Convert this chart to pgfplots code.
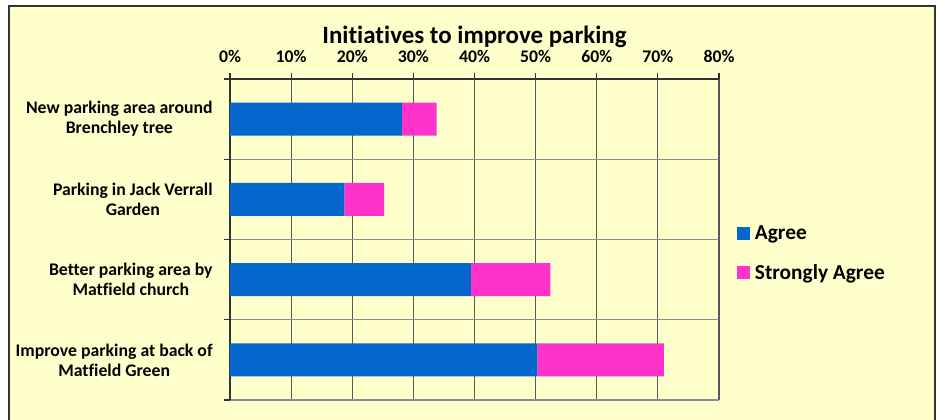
\documentclass[border=0pt]{standalone}
\usepackage{fontspec}
\setmainfont{Carlito}[Ligatures=CommonOff]
\usepackage{pgfplots}
\pgfplotsset{compat=1.18}
\definecolor{bgyellow}{HTML}{FFFFCC}
\definecolor{agreeblue}{HTML}{0567CC}
\definecolor{strongpink}{HTML}{FF33CC}
\definecolor{framegray}{HTML}{333333}

\begin{document}
\begin{tikzpicture}
% background in pixel units (1px = 0.75pt, y downwards)
\begin{scope}[x=0.75pt, y=-0.75pt]
  \useasboundingbox (0,0) rectangle (940,420);
  \fill[white] (0,0) rectangle (940,420);
  \fill[bgyellow] (9,6) rectangle (935,420);
  \draw[framegray, line width=0.9pt] (9,420) -- (9,6) -- (935,6) -- (935,420);
\end{scope}
\begin{axis}[
  at={(172.5pt,-300pt)}, anchor=south west,
  scale only axis, width=366.75pt, height=240.75pt,
  xbar stacked, bar width=24.75pt,
  xmin=0, xmax=80, ymin=-0.5, ymax=3.5, y dir=reverse,
  axis x line*=top, axis y line*=left,
  axis line style={framegray, line width=0.8pt, -},
  xtick={0,10,...,80},
  xticklabel={\pgfmathprintnumber[assume math mode=true]{\tick}\%},
  xticklabel style={font=\fontsize{13.3}{15}\selectfont\bfseries, yshift=4.5pt},
  xmajorgrids, major grid style={black!65, line width=0.8pt},
  ytick={0,1,2,3},
  yticklabels={{New parking area around\\Brenchley tree},
               {Parking in Jack Verrall\\Garden},
               {Better parking area by\\Matfield church},
               {Improve parking at back of\\Matfield Green}},
  yticklabel style={font=\fontsize{13.3}{15}\selectfont\bfseries, align=center, xshift=-5pt},
  minor ytick={-0.5,0.5,1.5,2.5,3.5},
  yminorgrids, minor grid style={black!45, line width=0.8pt},
  tick align=outside, major tick length=4.5pt, minor tick length=4.5pt,
  major y tick style={draw=none},
  minor y tick style={framegray, line width=0.8pt},
  major x tick style={framegray, line width=0.8pt},
  title={Initiatives to improve parking},
  title style={font=\fontsize{18.7}{21}\selectfont\bfseries, at={(0.5,1)}, anchor=center, yshift=25.5pt},
  legend style={at={(1.0368,0.552)}, anchor=north west, draw=none, fill=none,
    font=\fontsize{16}{18}\selectfont\bfseries, inner sep=0pt, row sep=13pt,
    cells={anchor=west}},
  legend image code/.code={\fill[#1, draw=none] (0pt,-4.875pt) rectangle (9.75pt,4.875pt); \path (11.25pt,0pt);},
]
\addplot[fill=agreeblue, draw=none] coordinates {(28.1,0) (18.7,1) (39.4,2) (50.3,3)};
\addplot[fill=strongpink, draw=none] coordinates {(5.7,0) (6.5,1) (13.0,2) (20.7,3)};
\legend{Agree, Strongly Agree}
\end{axis}
\end{tikzpicture}
\end{document}
